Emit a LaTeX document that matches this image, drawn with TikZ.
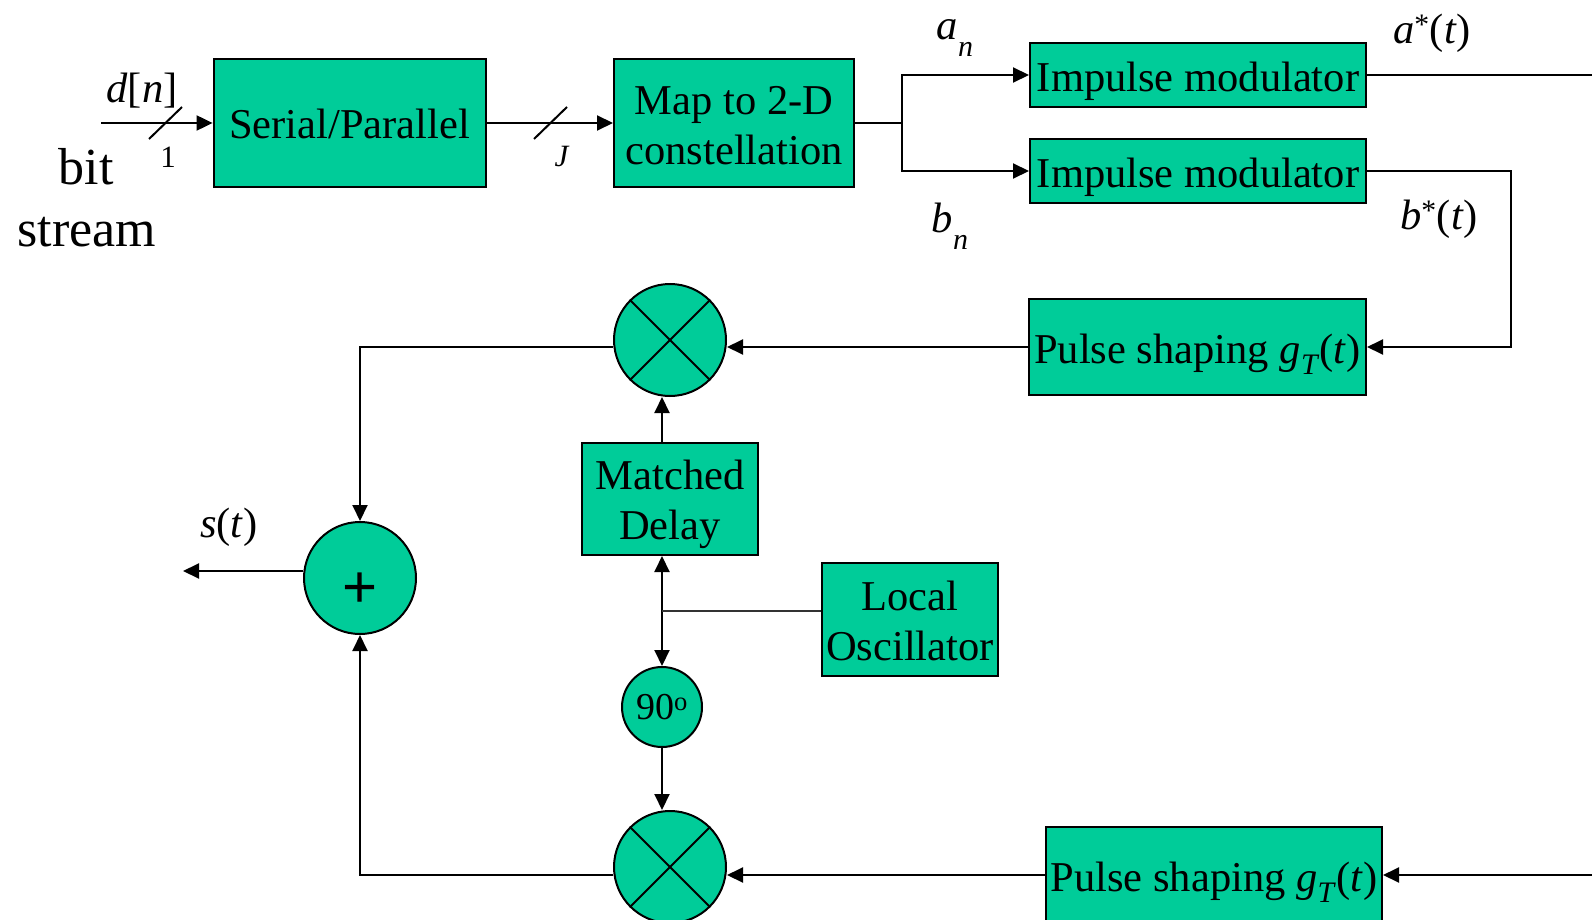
\documentclass[tikz,border=0pt]{standalone}
\usepackage{fontspec}
\setmainfont{Liberation Serif}
\setsansfont{Liberation Sans}
\usetikzlibrary{arrows.meta,calc}
\definecolor{qgreen}{RGB}{0,204,153}
\newcommand{\lowtext}[2]{\raisebox{#1}[0pt][0pt]{\begin{tabular}{@{}c@{}}#2\end{tabular}}}
\begin{document}
\begin{tikzpicture}[x=1pt,y=-1pt,
  blk/.style={draw=black,fill=qgreen,line width=2pt,inner sep=0pt,align=center,font=\fontsize{42.5}{50}\selectfont},
  circ/.style={draw=black,fill=qgreen,line width=2pt,circle,inner sep=0pt},
  arr/.style={-{Triangle[length=16pt,width=15pt]}},
  darr/.style={{Triangle[length=16pt,width=15pt]}-{Triangle[length=16pt,width=15pt]}},
  conn/.style={line width=2pt},
  thinconn/.style={line width=1.6pt,black!80},
  lbl/.style={inner sep=0pt,font=\fontsize{42.5}{50}\selectfont},
  small/.style={inner sep=0pt,font=\fontsize{31}{34}\selectfont},
  big/.style={inner sep=0pt,font=\fontsize{52}{56}\selectfont}]
\useasboundingbox (0,0) rectangle (1592,920);

% blocks
\node[blk,minimum width=272pt,minimum height=128pt] (sp) at (349.6,123) {\lowtext{-11.6pt}{Serial/Parallel}};
\node[blk,minimum width=240pt,minimum height=128pt] (map) at (734,123) {\lowtext{-12.6pt}{Map to 2-D\\constellation}};
\node[blk,minimum width=336pt,minimum height=64pt] (im1) at (1198,75) {\lowtext{-12.6pt}{Impulse modulator}};
\node[blk,minimum width=336pt,minimum height=64pt] (im2) at (1198,171) {\lowtext{-12.6pt}{Impulse modulator}};
\node[blk,minimum width=337pt,minimum height=96pt] (ps1) at (1197.5,347) {\lowtext{-12.6pt}{Pulse shaping \textit{g}\textsubscript{\textit{T}}(\textit{t})}};
\node[blk,minimum width=336pt,minimum height=96pt] (ps2) at (1214,875) {\lowtext{-12.6pt}{Pulse shaping \textit{g}\textsubscript{\textit{T}}(\textit{t})}};
\node[blk,minimum width=176pt,minimum height=112pt] (delay) at (670,499) {\lowtext{-12.1pt}{Matched\\Delay}};
\node[blk,minimum width=176pt,minimum height=113pt] (lo) at (910,619.5) {\lowtext{-12.6pt}{Local\\Oscillator}};

% circles
\node[circ,minimum size=112pt] (m1) at (670,340) {};
\node[circ,minimum size=112pt] (m2) at (670,867) {};
\node[circ,minimum size=112pt] (add) at (360,578) {};
\node[inner sep=0pt,font=\sffamily\fontsize{60}{60}\selectfont] (plus) at ($(add)+(0,12)$) {+};
\node[circ,minimum size=80pt,font=\fontsize{38}{40}\selectfont] (nine) at (662,707) {90\textsuperscript{o}};
\foreach \m in {m1,m2}{
  \draw[conn] (\m.north west) -- (\m.south east);
  \draw[conn] (\m.north east) -- (\m.south west);
}

% coordinates
\coordinate (in) at (101,123);
\coordinate (split) at (902,123);
\coordinate (aout) at (1592,75);
\coordinate (bin) at (1592,875);
\coordinate (out) at (183,571);
\coordinate (col) at (662,611);
\coordinate (turn) at (1511,171);

% connectors
\draw[conn,arr] (in) -- (sp.west);
\draw[conn] (165.5,123) ++(-16.5,16) -- ++(33,-32);
\draw[conn,arr] (sp.east) -- (map.west);
\draw[conn] (550.5,123) ++(-16.5,16) -- ++(33,-32);
\draw[conn] (map.east) -- (split);
\draw[conn,arr] (split) |- (im1.west);
\draw[conn,arr] (split) |- (im2.west);
\draw[conn] (im1.east) -- (aout);
\draw[conn,arr] (im2.east) -- (turn) |- (ps1.east);
\draw[conn,arr] (ps1.west) -- (ps1.west -| m1.east);
\draw[conn,arr] (ps1.west -| m1.west) -| (add.north);
\draw[conn,arr] (add.west |- out) -- (out);
\draw[conn,arr] (delay.north -| col) -- (m1.south -| col);
\draw[conn,darr] (delay.south -| col) -- (nine.north);
\draw[thinconn] (lo.west |- col) -- (col);
\draw[conn,arr] (nine.south) -- (m2.north -| nine.south);
\draw[conn,arr] (bin) -- (ps2.east);
\draw[conn,arr] (ps2.west) -- (ps2.west -| m2.east);
\draw[conn,arr] (ps2.west -| m2.west) -| (add.south);

% labels
\node[lbl] (ldn) at (142,91) {\textit{d}[\textit{n}]};
\node[small] (l1) at (168,157) {1};
\node[big] (lbit) at (86,167) {bit};
\node[big] (lstream) at (87,232) {stream};
\node[small] (lJ) at (562,157) {\textit{J}};
\node[lbl] (lan) at (955,38) {\textit{a}\raisebox{-0.4em}{\fontsize{30}{30}\selectfont\textit{n}}};
\node[lbl] (lbn) at (950,226) {\textit{b}\raisebox{-0.4em}{\fontsize{30}{30}\selectfont\textit{n}}};
\node[lbl] (las) at (1432,33) {\textit{a}\textsuperscript{*}(\textit{t})};
\node[lbl] (lbs) at (1439,219) {\textit{b}\textsuperscript{*}(\textit{t})};
\node[lbl] (lst) at (229,527) {\textit{s}(\textit{t})};
\end{tikzpicture}
\end{document}
